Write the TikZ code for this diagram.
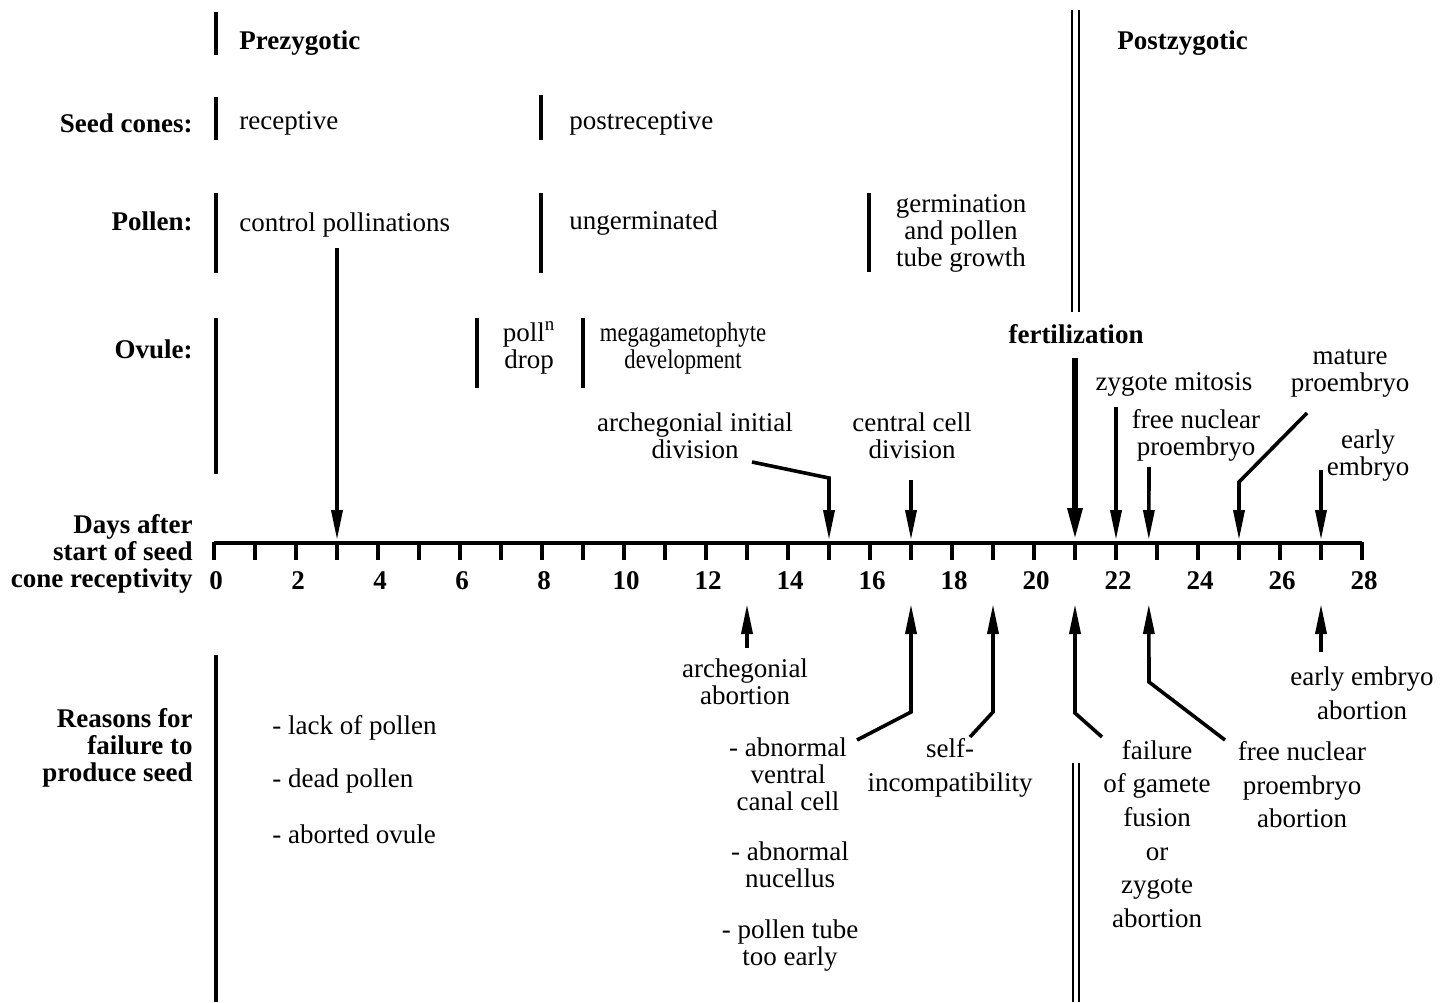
\documentclass[tikz,border=0pt]{standalone}
\usepackage{fontspec}
\usepackage{graphicx}
\setmainfont{Liberation Serif}
\usetikzlibrary{arrows.meta}
\newcommand\tightfnt{\fontsize{13.5pt}{13.5pt}\selectfont}
\newcommand\loosefnt{\fontsize{13.5pt}{16.8pt}\selectfont}
\newcommand\narrowtxt[1]{\scalebox{0.84}[1]{#1}}
\begin{document}
\begin{tikzpicture}[x=0.5pt,y=-0.5pt,
  every node/.style={inner sep=0pt},
  txt/.style={font=\tightfnt, align=center},
  ltxt/.style={font=\loosefnt, align=center},
  btxt/.style={font=\tightfnt\bfseries},
  rowlbl/.style={font=\tightfnt\bfseries, align=right, anchor=east},
  bar/.style={line width=1.6pt},
  dbar/.style={line width=1.2pt},
  arr/.style={line width=1.8pt, line join=miter, -{Triangle[width=5.5pt,length=15pt]}},
  thickarr/.style={line width=3pt, -{Triangle[width=7pt,length=16pt]}},
  axisline/.style={line width=2.4pt},
  tick/.style={line width=2pt}
]
\useasboundingbox (0,0) rectangle (1440,1002);

% ---------- separator bars ----------
\draw[bar] (216,12) -- (216,55);
\draw[bar] (216,97) -- (216,140);
\draw[bar] (216,193) -- (216,273);
\draw[bar] (216,318) -- (216,474);
\draw[bar] (216,655) -- (216,1002);
\draw[bar] (541,95) -- (541,140);
\draw[bar] (541,193) -- (541,273);
\draw[bar] (869,193) -- (869,272);
\draw[bar] (477,318) -- (477,388);
\draw[bar] (583,318) -- (583,388);
\draw[dbar] (1072,10) -- (1072,312);
\draw[dbar] (1079,10) -- (1079,312);
\draw[dbar] (1073,763) -- (1073,1002);
\draw[dbar] (1079,763) -- (1079,1002);

% ---------- axis ----------
\draw[axisline] (214,543) -- (1362,543);
\foreach \d in {0,...,28} {
  \draw[tick] ({214+41*\d},542) -- ({214+41*\d},560);
}
\foreach \d in {0,2,...,28} {
  \node[btxt] (n\d) at ({216+41*\d},581) {\d};
}

% ---------- row labels ----------
\node[btxt, anchor=west] (prez) at (239,43) {Prezygotic};
\node[btxt, anchor=west] (postz) at (1117,43) {Postzygotic};
\node[rowlbl] (seedlbl) at (193,123) {Seed cones:};
\node[rowlbl] (pollenlbl) at (193,221) {Pollen:};
\node[rowlbl] (ovulelbl) at (193,349) {Ovule:};
\node[rowlbl] (dayslbl) at (193,554) {Days after\\start of seed\\cone receptivity};
\node[rowlbl] (reasonlbl) at (193,748) {Reasons for\\failure to\\produce seed};

% ---------- upper texts ----------
\node[txt, anchor=west] (recept) at (239,123) {receptive};
\node[txt, anchor=west] (postrecept) at (569,123) {postreceptive};
\node[txt, anchor=west] (ctrl) at (239,225) {control pollinations};
\node[txt, anchor=west] (ungerm) at (569,223) {ungerminated};
\node[txt] (germ) at (961,233) {germination\\and pollen\\tube growth};
\node[txt] (polldrop) at (529,348) {poll\textsuperscript{n}\\drop};
\node[txt] (mega) at (683,348) {\narrowtxt{megagametophyte}\\\narrowtxt{development}};
\node[btxt] (fert) at (1076,334) {fertilization};
\node[txt] (zyg) at (1174,384) {zygote mitosis};
\node[txt] (matpro) at (1350,373) {mature\\proembryo};
\node[txt] (freenuc) at (1196,435) {free nuclear\\proembryo};
\node[txt] (earlyemb) at (1368,456) {early\\embryo};
\node[txt] (archinit) at (695,436) {archegonial initial\\division};
\node[txt] (central) at (912,436) {central cell\\division};

% ---------- lower texts ----------
\node[txt] (archab) at (745,682) {archegonial\\abortion};
\node[txt] (abvent) at (788,774) {- abnormal\\ventral\\canal cell};
\node[txt] (abnuc) at (790,865) {- abnormal\\nucellus};
\node[txt] (tubeearly) at (790,946) {- pollen tube\\too early};
\node[ltxt] (selfinc) at (950,768) {self-\\incompatibility};
\node[ltxt] (failfus) at (1157,834) {failure\\of gamete\\fusion\\or\\zygote\\abortion};
\node[ltxt] (freeab) at (1302,785) {free nuclear\\proembryo\\abortion};
\node[ltxt] (earlyab) at (1362,693) {early embryo\\abortion};
\node[txt, anchor=west] (lack) at (272,728) {- lack of pollen};
\node[txt, anchor=west] (dead) at (272,781) {- dead pollen};
\node[txt, anchor=west] (abov) at (272,834) {- aborted ovule};

% ---------- coordinates on the axis ----------
\foreach \n/\d in {3/3,15/15,17/17,21/21,22/22,228/22.8,25/25,27/27} {
  \coordinate (up\n) at ({214+41*\d},540);
}
\foreach \n/\d in {13/13,17/17,19/19,21/21,228/22.8,27/27} {
  \coordinate (lo\n) at ({214+41*\d},604);
}

% ---------- upper arrows ----------
\coordinate (s3) at (337,248);
\draw[arr] (s3) -- (up3);
\coordinate (s15) at (752,462);
\coordinate (c15) at (829,478);
\draw[arr] (s15) -- (c15) -- (up15);
\coordinate (s17) at (911,480);
\draw[arr] (s17) -- (up17);
\coordinate (s21) at (1075,358);
\draw[thickarr] (s21) -- (up21);
\coordinate (s22) at (1116,407);
\draw[arr] (s22) -- (up22);
\coordinate (s228) at (1149,467);
\draw[arr] (s228) -- (up228);
\coordinate (s25) at (1307,413);
\coordinate (c25) at (1239,482);
\draw[arr] (s25) -- (c25) -- (up25);
\coordinate (s27) at (1321,470);
\draw[arr] (s27) -- (up27);

% ---------- lower arrows ----------
\coordinate (b13) at (747,648);
\draw[arr] (b13) -- (lo13);
\coordinate (b17) at (857,740);
\coordinate (k17) at (911,712);
\draw[arr] (b17) -- (k17) -- (lo17);
\coordinate (b19) at (970,737);
\coordinate (k19) at (993,712);
\draw[arr] (b19) -- (k19) -- (lo19);
\coordinate (b21) at (1102,737);
\coordinate (k21) at (1075,713);
\draw[arr] (b21) -- (k21) -- (lo21);
\coordinate (b228) at (1225,740);
\coordinate (k228) at (1149,682);
\draw[arr] (b228) -- (k228) -- (lo228);
\coordinate (b27) at (1321,652);
\draw[arr] (b27) -- (lo27);
\end{tikzpicture}
\end{document}
